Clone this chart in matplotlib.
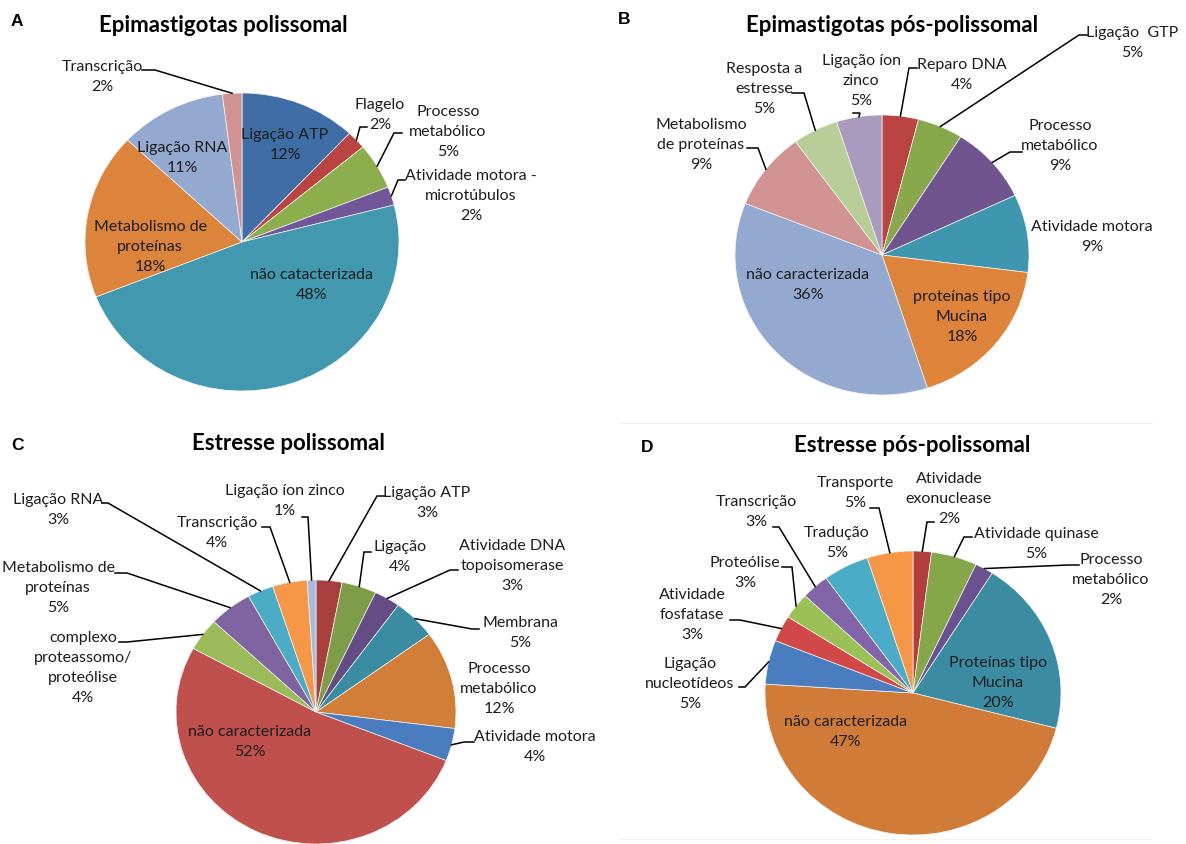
import matplotlib
matplotlib.use('Agg')
import matplotlib.pyplot as plt
import numpy as np

plt.rcParams['font.family'] = ['Lato', 'DejaVu Sans']

W, H = 1186, 844

# ── dados ────────────────────────────────────────────────
A_names  = ['Ligação ATP', 'Flagelo', 'Processo\nmetabólico',
            'Atividade motora -\nmicrotúbulos', 'não catacterizada',
            'Metabolismo de\nproteínas', 'Ligação RNA', 'Transcrição']
A_values = [12, 2, 5, 2, 48, 18, 11, 2]
A_colors = ['#3F6DA5', '#B94441', '#8DAE4D', '#71569A', '#4198AF',
            '#DD843C', '#93A9CF', '#D19392']

B_names  = ['Reparo DNA', 'Ligação  GTP', 'Processo\nmetabólico',
            'Atividade motora', 'proteínas tipo\nMucina', 'não caracterizada',
            'Metabolismo\nde proteínas', 'Resposta a\nestresse',
            'Ligação íon\nzinco']
B_values = [4, 5, 9, 9, 18, 36, 9, 5, 5]
B_colors = ['#B94441', '#88A84C', '#70548F', '#3E97AE', '#DE843A',
            '#93A9CF', '#D19392', '#B8CD97', '#A89BBE']

C_names  = ['Ligação ATP', 'Ligação', 'Atividade DNA\ntopoisomerase',
            'Membrana', 'Processo\nmetabólico', 'Atividade motora',
            'não caracterizada', 'complexo\nproteassomo/\nproteólise',
            'Metabolismo de\nproteínas', 'Ligação RNA', 'Transcrição',
            'Ligação íon zinco']
C_values = [3, 4, 3, 5, 12, 4, 52, 4, 5, 3, 4, 1]
C_colors = ['#A63F3D', '#7E9D48', '#644C84', '#3A8CA2', '#D17E38',
            '#4A7DC0', '#C0504D', '#9BBB59', '#8064A2', '#4BACC6',
            '#F79646', '#A7BCDD']

D_names  = ['Atividade\nexonuclease', 'Atividade quinase',
            'Processo\nmetabólico', 'Proteínas tipo\nMucina',
            'não caracterizada', 'Ligação\nnucleotídeos',
            'Atividade\nfosfatase', 'Proteólise', 'Transcrição',
            'Tradução', 'Transporte']
D_values = [2, 5, 2, 20, 47, 5, 3, 3, 3, 5, 5]
D_colors = ['#B23F3D', '#86A64A', '#6B5190', '#3B8BA3', '#D07C38',
            '#4A7CC0', '#D04848', '#9BC156', '#8265A8', '#4AACC6',
            '#F79646']

titles  = ['Epimastigotas polissomal', 'Epimastigotas pós-polissomal',
           'Estresse polissomal', 'Estresse pós-polissomal']
letters = ['A', 'B', 'C', 'D']

# ── layout (pixels) ──────────────────────────────────────
# pie geometry: centre x, centre y, radius x, radius y
geom = [(242, 242, 157, 149), (882, 255, 147, 140),
        (316, 712, 140, 132), (913, 693, 148, 142)]
title_pos  = [(223, 25), (892, 25), (288, 444), (912, 446)]
letter_pos = [(17, 21), (624, 20), (17, 445), (647, 447)]

# label centre for each slice; leader = (x0, y0, stub dx) or None
A_txt = [(285, 145), (380, 115), (448, 132), (471, 196), (312, 285),
         (150, 247), (182, 158), (102, 77)]
A_lead = [None, (367, 127, -7), (402, 133, -8), (405, 180, -7), None,
          None, None, (142, 70, 13)]

B_txt = [(962, 75), (1132, 43), (1060, 146), (1092, 237), (962, 317),
         (808, 285), (701, 145), (764, 89), (861, 81)]
B_lead = [(917, 68, -8), (1087, 35, -8), (1022, 152, -12), None, None,
          None, (747, 148, 11), (792, 93, 12), (853, 113, 7)]

C_txt = [(427, 503), (400, 557), (512, 566), (520, 633), (499, 689),
         (535, 747), (250, 742), (83, 668), (58, 588), (58, 510),
         (217, 533), (285, 501)]
C_lead = [(385, 496, -8), (371, 552, -7), (458, 570, -8),
          (479, 629, -7), None, (474, 742, -10), None, (119, 642, 8),
          (115, 573, 12), (102, 503, 6), (262, 527, 8), (302, 517, 6)]

D_txt = [(949, 499), (1036, 544), (1111, 580), (998, 683), (846, 732),
         (690, 684), (692, 615), (745, 573), (756, 512), (837, 543),
         (855, 493)]
D_lead = [(934, 522, -7), (972, 537, -8), (1079, 565, -11), None, None,
          (739, 687, 6), (730, 620, 10), (782, 567, 10), (773, 527, 6),
          None, (870, 508, 9)]

panels = [(A_names, A_values, A_colors, A_txt, A_lead),
          (B_names, B_values, B_colors, B_txt, B_lead),
          (C_names, C_values, C_colors, C_txt, C_lead),
          (D_names, D_values, D_colors, D_txt, D_lead)]

TXT = '#1e1e1e'
fig = plt.figure(figsize=(W / 100, H / 100), dpi=100)
fig.patch.set_facecolor('white')

ov = fig.add_axes([0, 0, 1, 1], zorder=5)
ov.set_xlim(0, W)
ov.set_ylim(H, 0)
ov.axis('off')
ov.patch.set_alpha(0)

# ajustar tamanho da fonte à largura medida na figura original
rend = fig.canvas.get_renderer()


def text_w(s, **kw):
    t = ov.text(0, 0, s, **kw)
    bb = t.get_window_extent(rend)
    t.remove()
    return bb


FS = 10 * 123 / text_w('não catacterizada', fontsize=10).width
TFS = 14 * 250 / text_w(titles[0], fontsize=14, fontweight='bold').width
h1 = text_w('lp', fontsize=FS).height
s1 = text_w('lp\nlp', fontsize=FS, linespacing=1.0).height - h1
s2 = text_w('lp\nlp', fontsize=FS, linespacing=2.0).height - h1
LS = 1.0 + (19.7 - s1) / (s2 - s1)

# very faint frame lines around panel D
ov.plot([620, 1152], [423, 423], color='#f1f1f1', lw=0.7)
ov.plot([619, 1152], [839, 839], color='#f3f3f3', lw=0.7)

for k, (names, vals, cols, txt, lead) in enumerate(panels):
    cx, cy, rx, ry = geom[k]
    ax = fig.add_axes([(cx - rx) / W, 1 - (cy + ry) / H,
                       2 * rx / W, 2 * ry / H])
    ax.pie(vals, colors=cols, startangle=90, counterclock=False,
           radius=1, wedgeprops=dict(edgecolor='#f4f4f4', linewidth=0.5))
    ax.set_xlim(-1, 1)
    ax.set_ylim(-1, 1)
    ax.set_aspect('auto')
    ax.axis('off')

    tot = float(sum(vals))
    cum = np.cumsum([0] + list(vals))
    for i, (nm, v) in enumerate(zip(names, vals)):
        tx, ty = txt[i]
        ov.text(tx, ty, f'{nm}\n{v}%', ha='center', va='center',
                fontsize=FS, color=TXT, linespacing=LS)
        if lead[i] is not None:
            x0, y0, dx = lead[i]
            mid = (cum[i] + cum[i + 1]) / 2 / tot * 2 * np.pi
            ex = cx + rx * np.sin(mid)
            ey = cy - ry * np.cos(mid)
            ov.plot([x0, x0 + dx, ex], [y0, y0, ey], color='black', lw=1.1,
                    solid_joinstyle='miter')

    ov.text(*title_pos[k], titles[k], ha='center', va='center',
            fontsize=TFS, fontweight='bold', color='black')
    ov.text(*letter_pos[k], letters[k], ha='center', va='center',
            fontsize=12.5, fontweight='bold', color='black',
            family=['Liberation Sans', 'DejaVu Sans'])

fig.savefig('out.png', dpi=100, facecolor='white')
